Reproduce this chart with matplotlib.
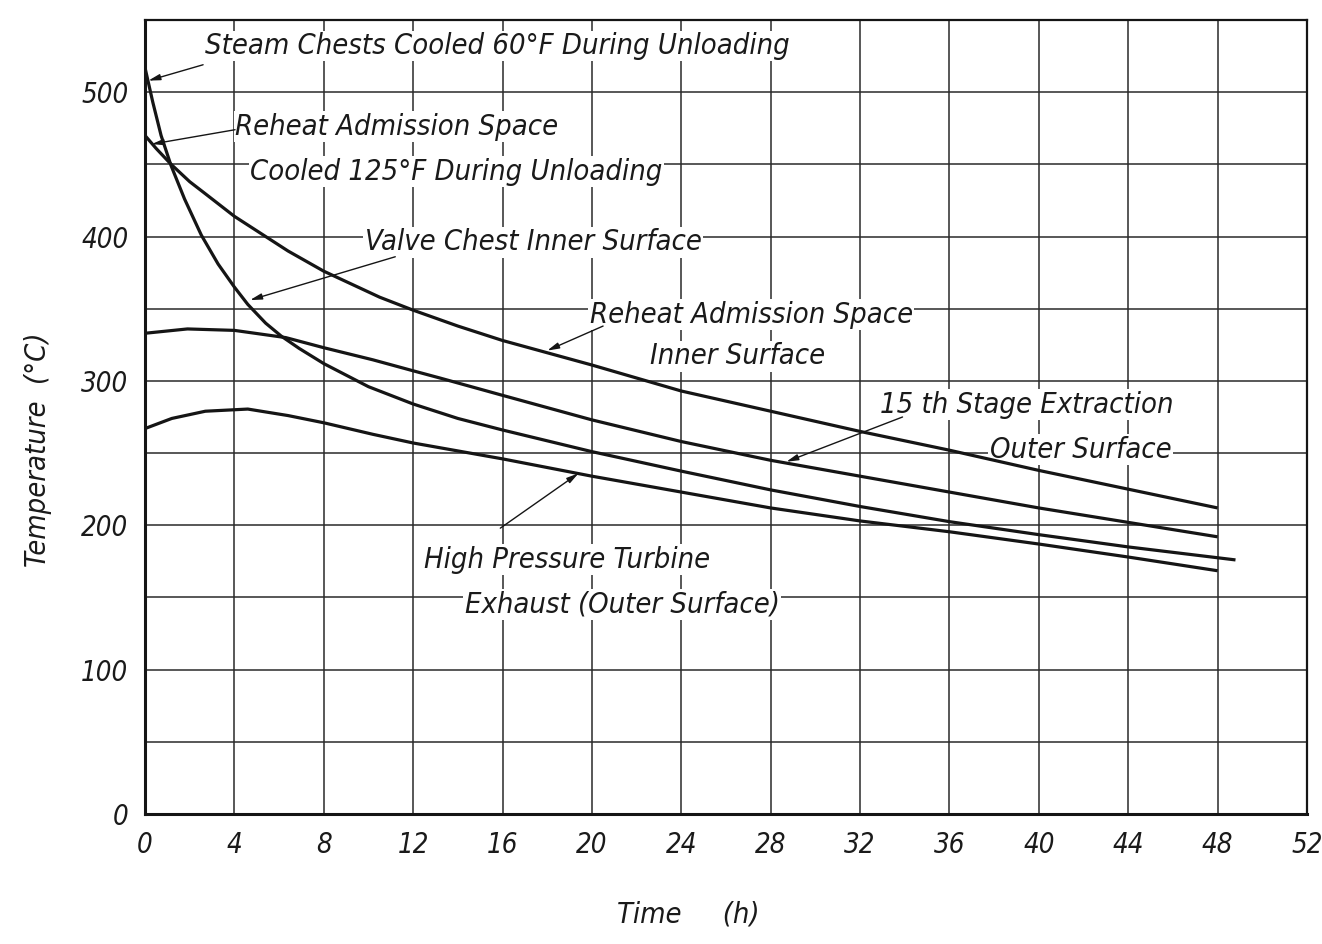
import matplotlib
matplotlib.use("Agg")
import matplotlib.pyplot as plt
from matplotlib import font_manager as fm

# ---------------- data ----------------
reheat_t = [0, 0.5, 1.17, 2, 2.67, 4, 5.2, 6.4, 8, 10.5, 12, 14, 16, 20, 24, 28, 32, 36, 40, 44, 48]
reheat_T = [470, 461, 450, 438, 430, 414, 402, 390, 376, 358, 349, 338, 328, 311, 293, 279, 265, 252, 238, 225, 212]

valve_t = [0, 0.35, 0.72, 1.17, 1.77, 2.52, 3.27, 4, 4.6, 5.4, 6.1, 6.9, 8, 10, 12, 14, 16, 20, 24, 28, 32, 36, 40, 44, 48.8]
valve_T = [517, 493, 470, 449, 426, 401, 381, 365, 353, 340, 331, 322.5, 312, 296, 284, 274, 266, 251, 237.5, 224.5, 213, 202.5, 193.5, 185, 176]

stage15_t = [0, 1.9, 4, 6.3, 8, 10.2, 12, 13.2, 16, 20, 24, 28, 32, 36, 40, 44, 48]
stage15_T = [333, 336, 335, 330, 323, 314.6, 307, 302, 290, 273, 258, 245, 234, 223, 212, 202, 192]

hp_t = [0, 1.2, 2.7, 4.6, 6.4, 8, 10.2, 12, 16, 20, 24, 28, 32, 36, 40, 44, 48]
hp_T = [267, 274, 279, 280.5, 276, 271, 263, 257, 246, 234, 223, 212, 203, 195.5, 187, 178, 168.5]

x_ticks = list(range(0, 53, 4))
x_tick_labels = [str(v) for v in x_ticks]
y_ticks = list(range(0, 551, 50))
y_tick_labels = ["0", "", "100", "", "200", "", "300", "", "400", "", "500", ""]

labels = [
    "Steam Chests Cooled 60°F During Unloading",
    "Reheat Admission Space",
    "Cooled 125°F During Unloading",
    "Valve Chest Inner Surface",
    "Reheat Admission Space",
    "Inner Surface",
    "15 th Stage Extraction",
    "Outer Surface",
    "High Pressure Turbine",
    "Exhaust (Outer Surface)",
]
label_pos = [(2.68, 532), (4.03, 476), (4.70, 445), (9.84, 396), (19.9, 346),
             (22.6, 317), (32.9, 283.6), (37.8, 252.4), (12.5, 176), (14.3, 145)]

# arrows: (start x, start y, tip x, tip y)
arrows = [
    (2.6, 519, 0.15, 508),
    (4.03, 474, 0.3, 464),
    (11.2, 386, 4.7, 356),
    (20.5, 338, 18.0, 321),
    (33.9, 275, 28.7, 244),
    (15.9, 198, 19.4, 236),
]

# ---------------- fonts ----------------
names = {f.name for f in fm.fontManager.ttflist}
cond = any(f.name == "DejaVu Sans" and f.stretch == "condensed" for f in fm.fontManager.ttflist)
if "Liberation Sans Narrow" in names:
    FAM, STRETCH = "Liberation Sans Narrow", "normal"
elif cond:
    FAM, STRETCH = "DejaVu Sans", "condensed"
else:
    FAM, STRETCH = "Liberation Sans", "normal"
FONT = dict(family=FAM, style="italic", stretch=STRETCH, color="#1a1a1a")

INK = "#151515"
fig = plt.figure(figsize=(13.22, 9.44), dpi=100)
W, H = 1322, 944
ax = fig.add_axes([145 / W, 1 - 814 / H, (1307 - 145) / W, (814 - 20) / H])
ax.set_xlim(0, 52)
ax.set_ylim(0, 550)

ax.set_xticks(x_ticks)
ax.set_yticks(y_ticks)
ax.set_axisbelow(True)
ax.grid(True, color="#2a2a2a", lw=1.1)
ax.tick_params(length=0, pad=12)
for s in ax.spines.values():
    s.set_color(INK)
    s.set_linewidth(1.6)
ax.spines["left"].set_linewidth(2.2)
ax.spines["bottom"].set_linewidth(2.2)

for t, T in [(reheat_t, reheat_T), (valve_t, valve_T), (stage15_t, stage15_T), (hp_t, hp_T)]:
    ax.plot(t, T, color=INK, lw=2.3, zorder=3, solid_capstyle="butt", solid_joinstyle="round")

# fit label font size on the longest label (target width 585 px)
probe = fig.text(0, 0, labels[0], fontsize=20, **FONT)
fig.canvas.draw()
w = probe.get_window_extent().width
probe.remove()
fs = 20 * 585 / w

for txt, (x, y) in zip(labels, label_pos):
    ax.text(x, y, txt, fontsize=fs, ha="left", va="center", zorder=2.5,
            bbox=dict(facecolor="white", edgecolor="none", pad=1.0), **FONT)

for x0, y0, x1, y1 in arrows:
    ax.annotate("", xy=(x1, y1), xytext=(x0, y0), zorder=4,
                arrowprops=dict(arrowstyle="-|>,head_length=0.7,head_width=0.18",
                                color=INK, lw=1.0, shrinkA=0, shrinkB=0))

tfs = fs * 0.95
ax.set_xticklabels(x_tick_labels, fontsize=tfs, **FONT)
ax.set_yticklabels(y_tick_labels, fontsize=tfs, **FONT)

fig.text(688 / W, 1 - 915 / H, "Time     (h)", fontsize=fs, ha="center", va="center", **FONT)
fig.text(38 / W, 1 - 450 / H, "Temperature  (°C)", fontsize=fs, rotation=90,
         ha="center", va="center", **FONT)

fig.savefig("out.png", dpi=100, facecolor="white")
